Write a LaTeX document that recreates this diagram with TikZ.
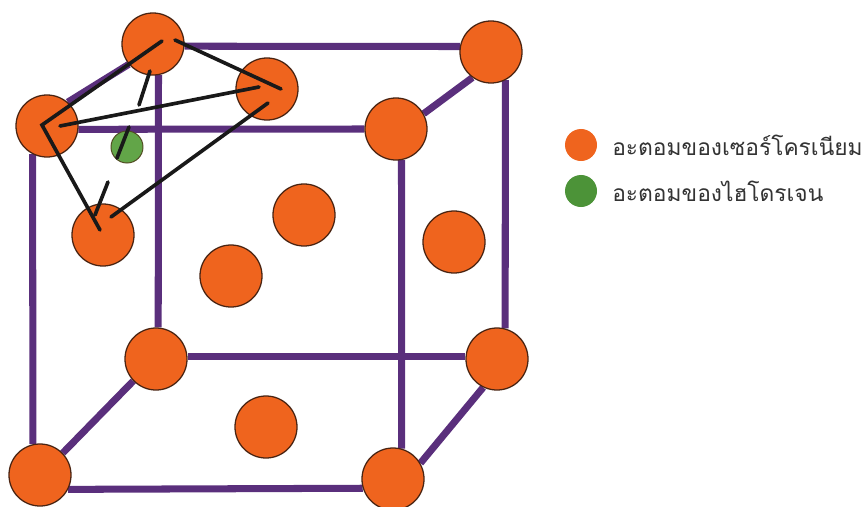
\documentclass[tikz,border=0pt]{standalone}
\usepackage{fontspec}
\newfontfamily\thaifont[Script=Thai]{Loma}
\usepackage{xcolor}
\usepackage{tikz}
\usetikzlibrary{backgrounds}
\definecolor{atomorange}{HTML}{EF641E}
\definecolor{atomgreen}{HTML}{62A548}
\definecolor{legendgreen}{HTML}{4C9338}
\definecolor{edgepurple}{HTML}{5A2F7C}
\definecolor{atomrim}{HTML}{4A2412}
\tikzset{
  zratom/.style={circle,fill=atomorange,draw=atomrim,line width=0.9pt,minimum size=1.55cm,inner sep=0pt},
  hatom/.style={circle,fill=atomgreen,draw=atomrim!70!atomgreen,line width=0.7pt,minimum size=0.8cm,inner sep=0pt},
  legenddot/.style={circle,minimum size=0.8cm,inner sep=0pt},
  legendtext/.style={anchor=west,inner sep=0pt,text=black!80,font=\thaifont\fontsize{16.2}{18}\selectfont},
  cubeedge/.style={edgepurple,line width=5pt},
  bondline/.style={black!90,line width=2.6pt,line cap=round}
}
\begin{document}
\begin{tikzpicture}[x=0.025cm,y=-0.025cm]
    \useasboundingbox (0,0) rectangle (864,507);
    % corner atoms
    \node[zratom] (tbl) at (153,44) {};
    \node[zratom] (tbr) at (491,52) {};
    \node[zratom] (ftl) at (47,126) {};
    \node[zratom] (ftr) at (396,129) {};
    \node[zratom] (bbl) at (156,359) {};
    \node[zratom] (bbr) at (497,359) {};
    \node[zratom] (fbl) at (40,475) {};
    \node[zratom] (fbr) at (393,479) {};
    % face atoms
    \node[zratom] (ftop) at (267,89) {};
    \node[zratom] (fleft) at (103,235) {};
    \node[zratom] (fback) at (304,215) {};
    \node[zratom] (ffront) at (231,276) {};
    \node[zratom] (fright) at (454,242) {};
    \node[zratom] (fbottom) at (266,427) {};
    % hydrogen
    \node[hatom] (hyd) at (127,147) {};
    % cube edges
    \begin{scope}[on background layer]
      \foreach \a/\b in {tbl.-4/tbr.170,ftl.-6/ftr.180,bbl.5/bbr.175,fbl.-27/fbr.197,
                         ftl.243/fbl.103,tbl.-80/bbl.86,ftr.-80/fbr.74,tbr.-63/bbr.75,
                         ftl.49/tbl.220,ftr.29/tbr.234,fbl.44/bbl.224,fbr.30/bbr.244}
        {\draw[cubeedge] (\a) -- (\b);}
    \end{scope}
    % free ends of the bonds
    \coordinate (ctl) at (162,41);
    \coordinate (cfl) at (42,125);
    \coordinate (clo) at (100,230);
    \coordinate (ctr) at (175,40);
    \coordinate (crr) at (281,89);
    \coordinate (cla) at (60,126);
    \coordinate (crl) at (259,87);
    \coordinate (clb) at (111,217);
    \coordinate (crb) at (268,103);
    \coordinate (da1) at (150,71);
    \coordinate (da2) at (139,105);
    \coordinate (db1) at (129,127);
    \coordinate (db2) at (117,158);
    \coordinate (dc1) at (108,182);
    \coordinate (dc2) at (95,215);
    % bonds
    \draw[bondline] (ctl) -- (cfl) -- (clo);
    \draw[bondline] (ctr) -- (crr);
    \draw[bondline] (cla) -- (crl);
    \draw[bondline] (clb) -- (crb);
    \draw[bondline] (da1) -- (da2);
    \draw[bondline] (db1) -- (db2);
    \draw[bondline] (dc1) -- (dc2);
    % legend
    \node[legenddot,fill=atomorange] (legzr) at (581,145) {};
    \node[legenddot,fill=legendgreen] (legh) at (581,191) {};
    \node[legendtext] (txtzr) at (612,145) {อะตอมของเซอร์โครเนียม};
    \node[legendtext] (txth) at (612,191) {อะตอมของไฮโดรเจน};
  \end{tikzpicture}
\end{document}
